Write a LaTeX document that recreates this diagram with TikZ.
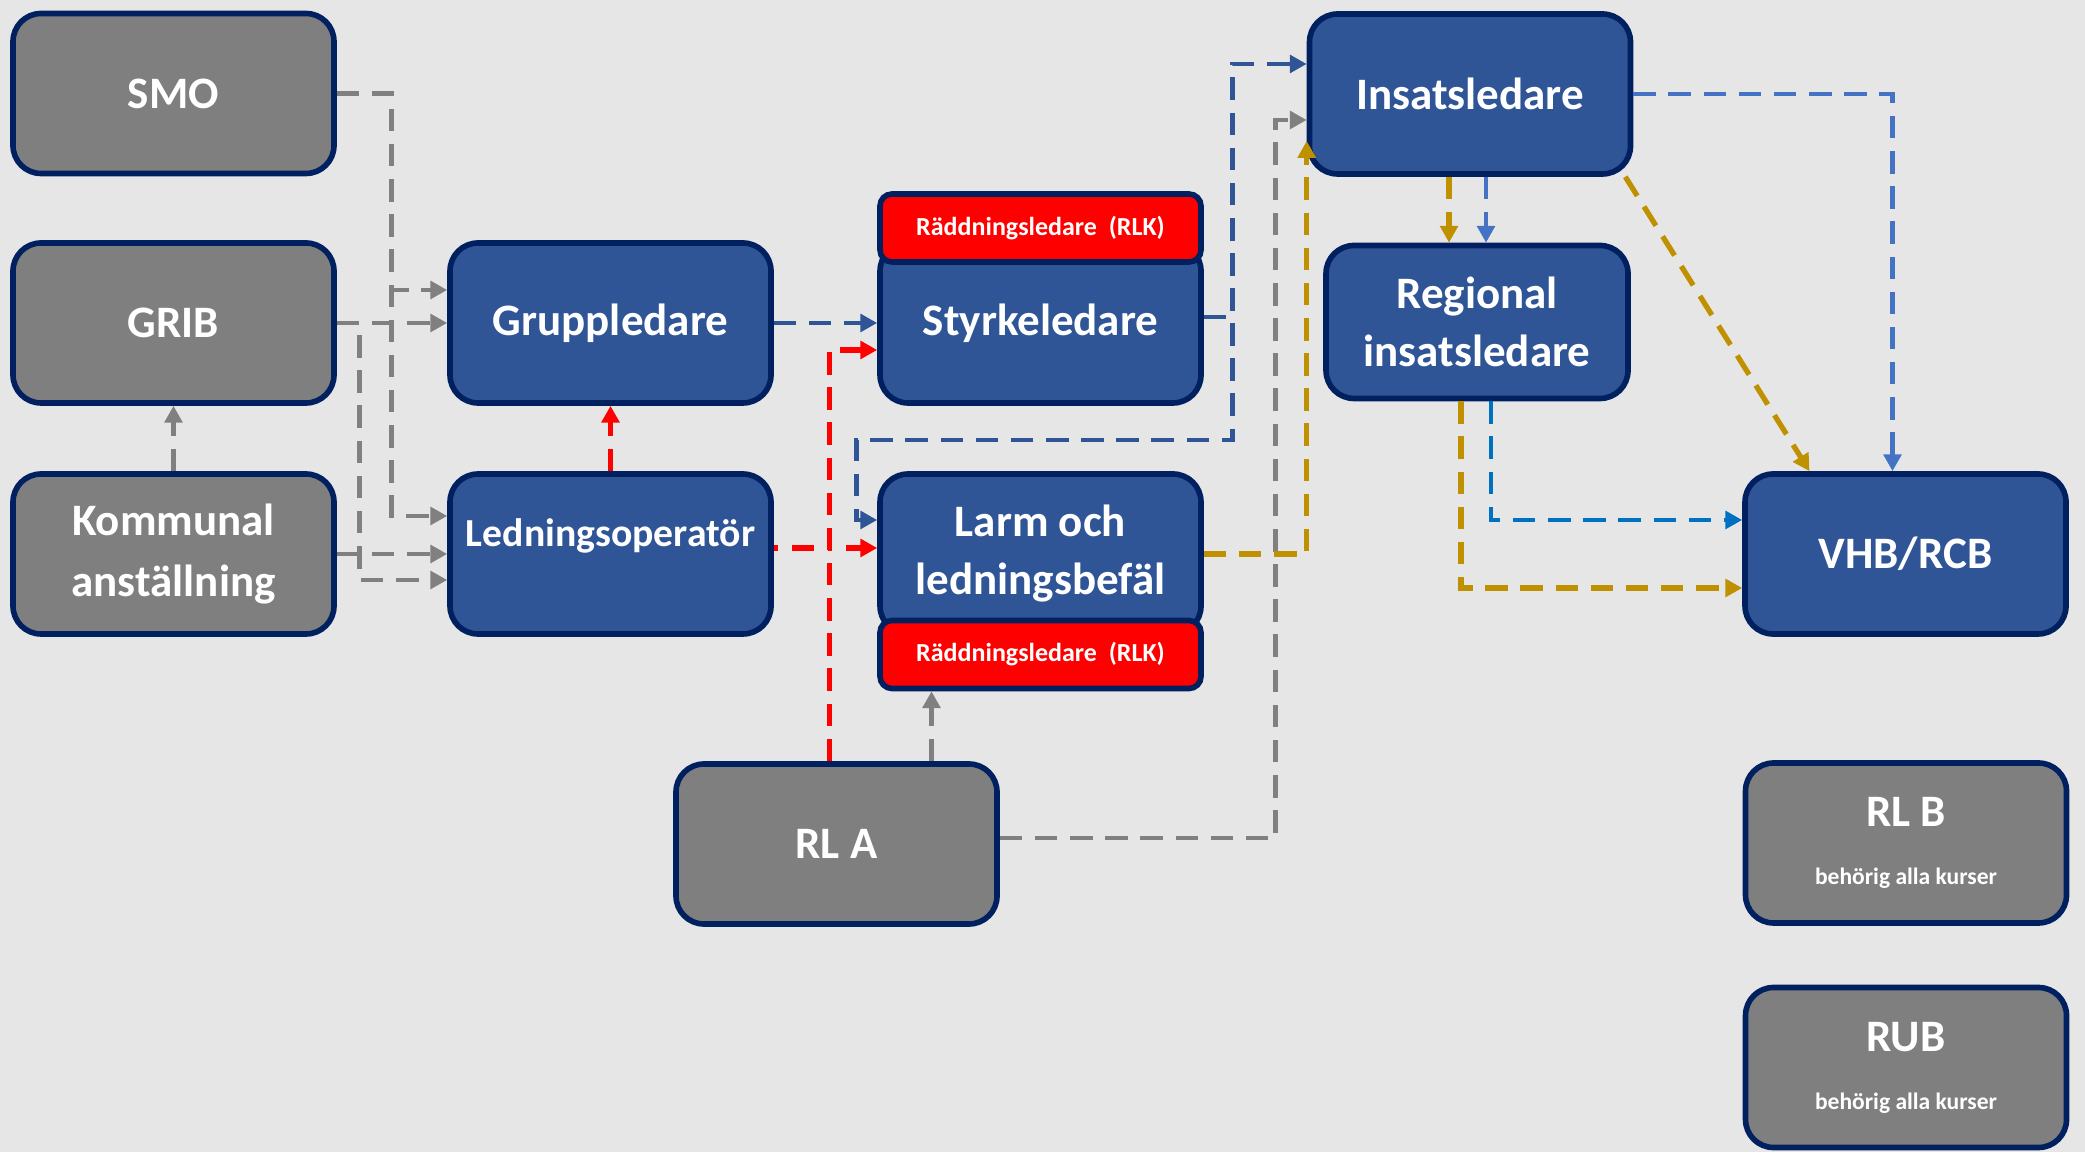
\documentclass[tikz,border=0pt]{standalone}
\usepackage{fontspec}
\setmainfont{Carlito}
\usepackage{tikz}
\usetikzlibrary{arrows.meta}
\definecolor{bggrey}{HTML}{E7E6E6}
\definecolor{tilegrey}{HTML}{7F7F7F}
\definecolor{tileblue}{HTML}{2F5597}
\definecolor{edgenavy}{HTML}{002060}
\definecolor{linkgrey}{HTML}{808080}
\definecolor{linknavy}{HTML}{2F5597}
\definecolor{linklight}{HTML}{4472C4}
\definecolor{linkbright}{HTML}{0070C0}
\definecolor{linkgold}{HTML}{BF9000}
\definecolor{linkred}{HTML}{FF0000}

\begin{document}
\begin{tikzpicture}[line join=miter,>={Triangle[length=4.8pt,width=5pt]},x=1.0cm,y=1.0cm,
    boxtile/.style={draw=edgenavy,line width=1.6pt,rounded corners=0.28cm,minimum width=3.21cm,minimum height=1.6cm,
      inner sep=2pt,text=white,align=center,font=\fontsize{12.8}{16.5}\selectfont\bfseries},
    greytile/.style={boxtile,fill=tilegrey},
    bluetile/.style={boxtile,fill=tileblue},
    redbar/.style={boxtile,fill=linkred,rounded corners=0.12cm,minimum height=0.68cm,font=\fontsize{7.4}{9}\selectfont\bfseries},
    conn/.style={->,line width=1.35pt,dash pattern=on 6.4pt off 3.6pt},
    greyconn/.style={conn,color=linkgrey},
    redconn/.style={conn,color=linkred,line width=1.5pt},
    navyconn/.style={conn,color=linknavy},
    lightconn/.style={conn,color=linklight},
    brightconn/.style={conn,color=linkbright},
    goldconn/.style={conn,color=linkgold,line width=1.5pt}]
      \fill[bggrey] (0,0) rectangle (20.85,11.52);
      \useasboundingbox (0,0) rectangle (20.85,11.52);
      \node[greytile] (smo) at (1.735,10.585) {SMO};
      \node[greytile] (grib) at (1.735,8.29) {GRIB};
      \node[greytile,font=\fontsize{12.8}{17.4}\selectfont\bfseries] (kom) at (1.735,5.98) {Kommunal\\anställning};
      \node[bluetile] (grp) at (6.105,8.29) {Gruppledare};
      \node[bluetile,font=\fontsize{11.3}{14}\selectfont\bfseries,text depth=0.42cm] (lop) at (6.105,5.98) {Ledningsoperatör};
      \node[bluetile] (styr) at (10.405,8.29) {Styrkeledare};
      \node[redbar] (rlk1) at (10.405,9.24) {Räddningsledare\ \ (RLK)};
      \node[bluetile] (larm) at (10.405,5.98) {Larm och\\ledningsbefäl};
      \node[redbar] (rlk2) at (10.405,4.975) {Räddningsledare\ \ (RLK)};
      \node[greytile] (rla) at (8.365,3.08) {RL A};
      \node[bluetile] (ins) at (14.70,10.58) {Insatsledare};
      \node[bluetile,minimum width=3.02cm,minimum height=1.53cm] (reg) at (14.77,8.30) {Regional\\insatsledare};
      \node[bluetile] (vhb) at (19.055,5.98) {VHB/RCB};
      \node[greytile] (rlb) at (19.06,3.09) {RL B\\{\fontsize{6.7}{8}\selectfont behörig alla kurser}};
      \node[greytile] (rub) at (19.06,0.845) {RUB\\{\fontsize{6.7}{8}\selectfont behörig alla kurser}};
      \draw[greyconn] (smo.east) -- ++(0.55,0) |- ([yshift=0.33cm]grp.west);
      \draw[greyconn] (smo.east) -- ++(0.55,0) |- ([yshift=0.38cm]lop.west);
      \draw[greyconn] (grib.east) -- (grp.west);
      \draw[greyconn] (grib.east) -- ++(0.23,0) |- ([yshift=-0.26cm]lop.west);
      \draw[greyconn] (kom.east) -- (lop.west);
      \draw[greyconn] (kom.north) -- (grib.south);
      \draw[greyconn] ([xshift=0.95cm]rla.north) -- ([xshift=0.95cm]rla.north |- rlk2.south);
      \draw[greyconn] ([yshift=0.06cm]rla.east) -| ([xshift=-0.31cm,yshift=-0.26cm]ins.west) -- ([yshift=-0.26cm]ins.west);
      \draw[redconn] (lop.north) -- (grp.south);
      \draw[redconn,dash pattern=on 1.3pt off 4pt on 6pt off 4pt] ([yshift=0.06cm]lop.east) -- ([yshift=0.06cm]larm.west);
      \draw[redconn] ([xshift=-0.07cm]rla.north) |- ([yshift=-0.27cm]styr.west);
      \draw[navyconn] (grp.east) -- (styr.west);
      \draw[navyconn] ([yshift=0.06cm]styr.east) -- ++(0.29,0) |- ([yshift=0.3cm]ins.west);
      \draw[navyconn] ([yshift=0.06cm]styr.east) -- ++(0.29,0) -- ++(0,-1.23) -| ([xshift=-0.21cm,yshift=0.34cm]larm.west) -- ([yshift=0.34cm]larm.west);
      \draw[goldconn] (larm.east) -| ([yshift=-0.47cm]ins.west);
      \draw[goldconn] ([xshift=-0.21cm]ins.south) -- ([xshift=-0.21cm]ins.south |- reg.north);
      \draw[lightconn] ([xshift=0.16cm]ins.south) -- ([xshift=0.16cm]ins.south |- reg.north);
      \draw[lightconn] (ins.east) -| ([xshift=-0.13cm]vhb.north);
      \draw[goldconn] ([xshift=-0.08cm]ins.south east) -- ([xshift=-0.96cm]vhb.north);
      \draw[brightconn] ([xshift=0.14cm]reg.south) |- ([yshift=0.34cm]vhb.west);
      \draw[goldconn] ([xshift=-0.16cm]reg.south) |- ([yshift=-0.34cm]vhb.west);
    \end{tikzpicture}
\end{document}
